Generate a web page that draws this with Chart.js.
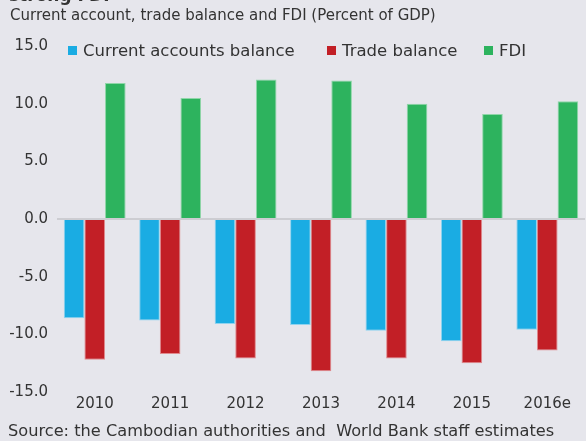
<!DOCTYPE html>
<html>
<head>
<meta charset="utf-8">
<script src="https://cdn.jsdelivr.net/npm/chart.js@4"></script>
<style>
  html, body { margin: 0; padding: 0; background: #e6e6ec; }
  body { width: 586px; height: 441px; position: relative; overflow: hidden; font-family: "DejaVu Sans", sans-serif; color: #333; }
  #wrap { position: absolute; left: 0; top: 0; width: 586px; height: 441px; }
  .title { position: absolute; left: 9px; top: -15px; font-size: 17px; font-weight: bold; }
  .subtitle { position: absolute; left: 10px; top: 6px; font-size: 15px; }
  .source { position: absolute; left: 8px; top: 421px; font-size: 16.2px; white-space: nowrap; }
  #legend { position: absolute; left: 0; top: 41px; width: 586px; height: 22px; font-size: 16.5px; }
  #legend span.item { position: absolute; top: 0; display: flex; align-items: center; white-space: nowrap; }
  #legend i { display: inline-block; width: 9px; height: 9px; margin-right: 6px; }
</style>
</head>
<body>
<div id="wrap"><canvas id="chart" width="586" height="441"></canvas></div>
<div class="title">strong FDI</div>
<div class="subtitle">Current account, trade balance and FDI (Percent of GDP)</div>
<div id="legend"></div>
<div class="source">Source: the Cambodian authorities and&nbsp; World Bank staff estimates</div>
<script>
// data (percent of GDP)
const years = ['2010', '2011', '2012', '2013', '2014', '2015', '2016e'];
const currentAccount = [-8.6, -8.8, -9.1, -9.2, -9.7, -10.6, -9.6];
const tradeBalance = [-12.2, -11.7, -12.1, -13.2, -12.1, -12.5, -11.4];
const fdi = [11.8, 10.5, 12.1, 12.0, 10.0, 9.1, 10.2];
const yTicks = [-15, -10, -5, 0, 5, 10, 15];

const series = [
  { label: 'Current accounts balance', data: currentAccount, color: '#1aace3', edge: '#8fd3ef' },
  { label: 'Trade balance', data: tradeBalance, color: '#c21f26', edge: '#e08a8e' },
  { label: 'FDI', data: fdi, color: '#2db35e', edge: '#8fd6a8' }
];
// where each legend item starts (px from left)
const legendLeft = [68, 327, 484];

const tickFont = { family: 'DejaVu Sans', size: 15 };

const chart = new Chart(document.getElementById('chart').getContext('2d'), {
  type: 'bar',
  data: {
    labels: years,
    datasets: series.map(s => ({
      label: s.label,
      data: s.data,
      backgroundColor: s.color,
      borderColor: s.edge,
      borderWidth: 1,
      categoryPercentage: 0.82,
      barPercentage: 1
    }))
  },
  options: {
    responsive: false,
    animation: false,
    layout: { padding: { top: 46, right: 1, left: 0, bottom: 0 } },
    plugins: {
      legend: { display: false },
      tooltip: { enabled: false }
    },
    scales: {
      x: {
        grid: { display: false, drawTicks: false },
        border: { display: false },
        ticks: { color: '#333', font: tickFont, padding: 3, maxRotation: 0 },
        afterFit: s => { s.height = 49; }
      },
      y: {
        min: yTicks[0],
        max: yTicks[yTicks.length - 1],
        afterBuildTicks: s => { s.ticks = yTicks.map(v => ({ value: v })); },
        border: { display: false },
        grid: {
          drawTicks: false,
          lineWidth: 2,
          color: c => (c.tick && c.tick.value === 0 ? '#cdcdd2' : 'rgba(0,0,0,0)')
        },
        ticks: {
          color: '#333',
          font: tickFont,
          padding: 9,
          callback: v => v.toFixed(1)
        },
        afterFit: s => { s.width = 57; }
      }
    }
  }
});

// legend as html, built from the datasets
const legend = document.getElementById('legend');
series.forEach((s, i) => {
  const item = document.createElement('span');
  item.className = 'item';
  item.style.left = legendLeft[i] + 'px';
  item.innerHTML = '<i style="background:' + s.color + '"></i>' + s.label;
  legend.appendChild(item);
});
</script>
</body>
</html>
